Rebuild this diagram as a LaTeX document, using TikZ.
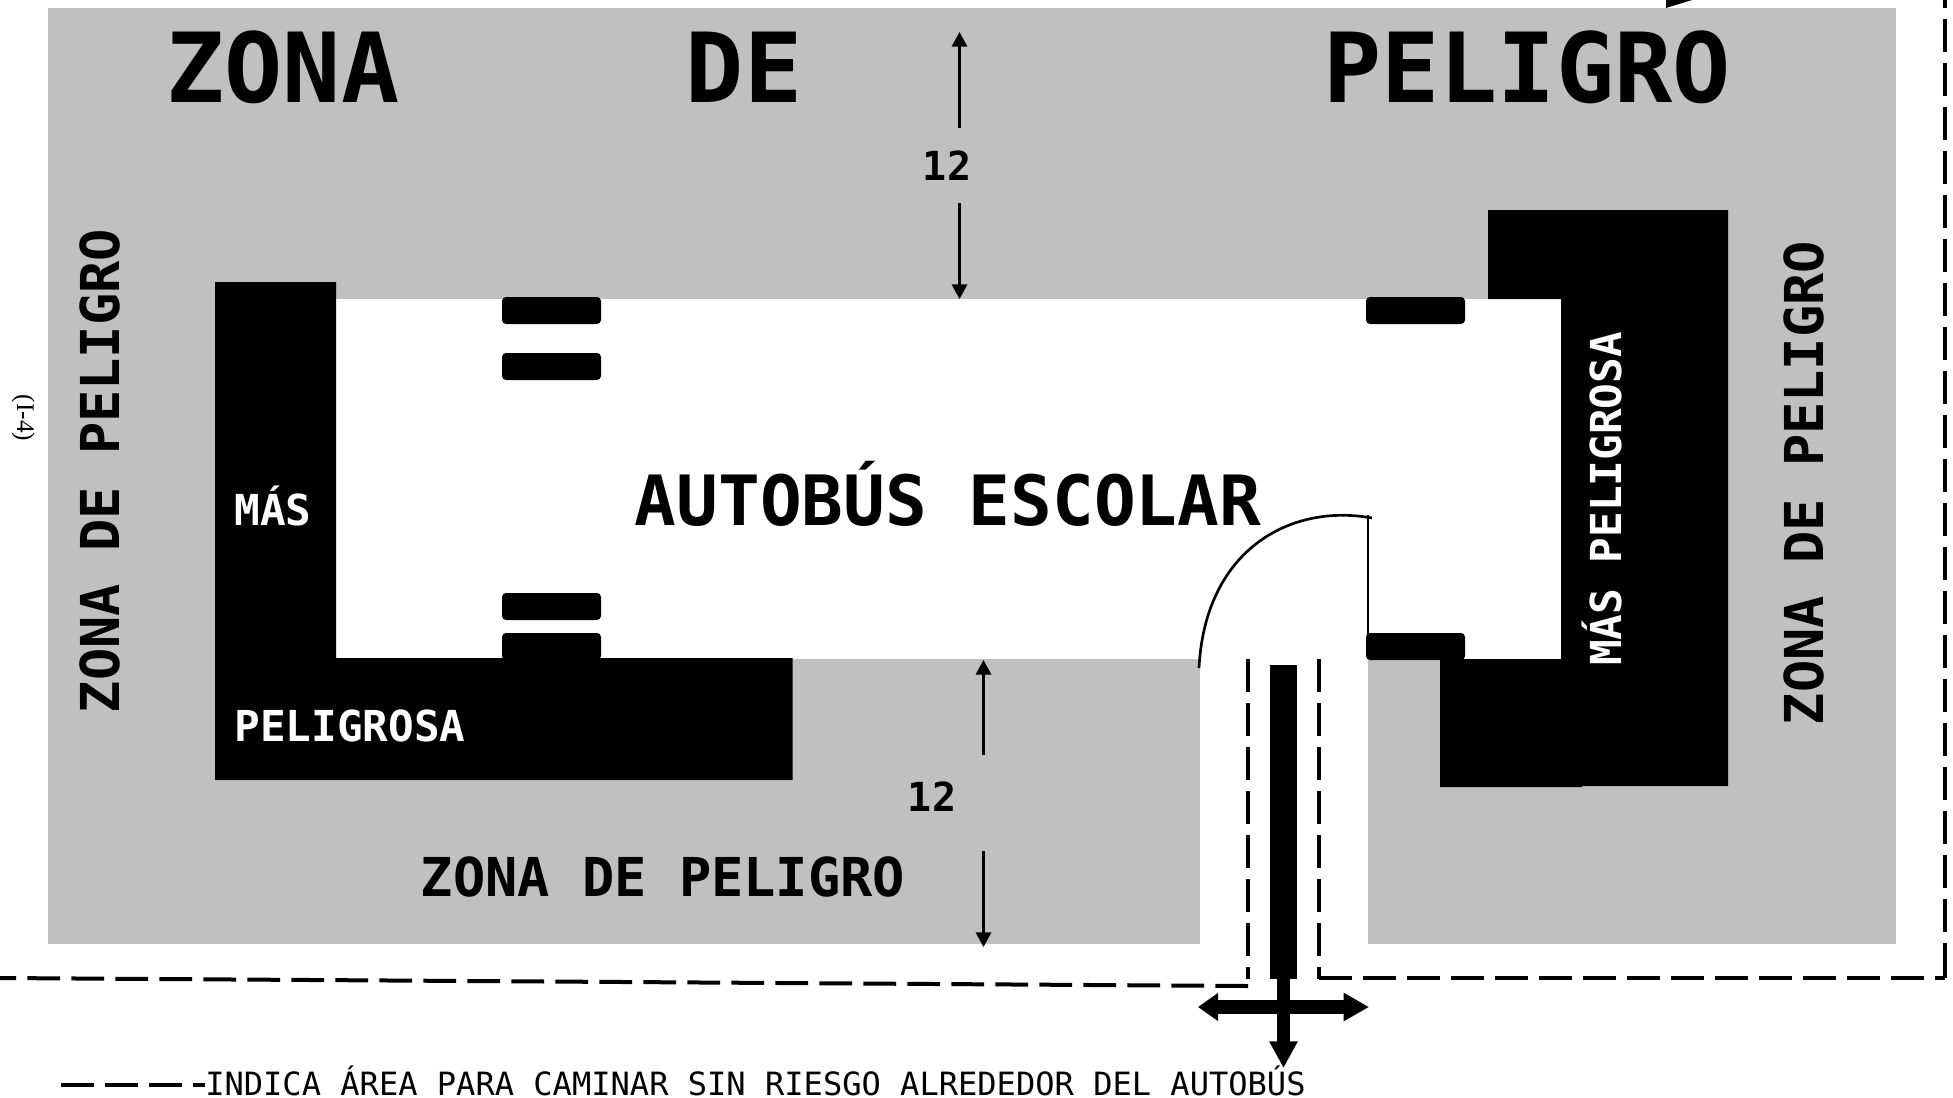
\documentclass[tikz,border=0pt]{standalone}
\usepackage{fontspec}
\usetikzlibrary{arrows.meta}
\setmainfont{DejaVu Sans Mono}
\newfontfamily\serifrm{Liberation Serif}
\definecolor{zonegray}{RGB}{192,192,192}
\tikzset{
  x=0.75pt,y=-0.75pt,
  zone/.style={fill=zonegray,draw=none},
  blackbox/.style={fill=black,draw=none},
  clearbox/.style={fill=white,draw=none},
  tire/.style={fill=black,draw=none,rounded corners=3pt},
  txt/.style={inner sep=0pt,anchor=base,font=\bfseries\fontsize{#1}{#1}\selectfont},
  rtxt/.style={txt=#1,rotate=90},
  dashline/.style={line width=3pt,dash pattern=on 24.5pt off 8.5pt},
  dimline/.style={line width=1.8pt,-{Triangle[length=11pt,width=11.5pt]}},
}
\begin{document}
\begin{tikzpicture}
\useasboundingbox (0,0) rectangle (1953,1097);
% grey zone, bus, walkway
\fill[zone] (48,8) rectangle (1896,944);
\fill[clearbox] (336,299) rectangle (1561,659);
\fill[clearbox] (1199.5,659) rectangle (1367.5,946);
% dangerous zones
\fill[blackbox] (215,282) -- (336,282) -- (336,658) -- (792.5,658) -- (792.5,780) -- (215,780) -- cycle;
\fill[blackbox] (1488,210) -- (1728,210) -- (1728,786) -- (1582,786) -- (1582,787) -- (1440,787) -- (1440,659) -- (1561,659) -- (1561,299) -- (1488,299) -- cycle;
% tires
\fill[tire] (502,297) rectangle (601,324);
\fill[tire] (502,353) rectangle (601,380);
\fill[tire] (502,593) rectangle (601,620);
\fill[tire] (502,633) rectangle (601,660);
\fill[tire] (1366,297) rectangle (1465,324);
\fill[tire] (1366,633) rectangle (1465,660);
% door
\coordinate (doorhinge) at (1368,515);
\coordinate (doorfoot) at (1368,640);
\coordinate (doorend) at (1199,668);
\draw[line width=2pt] (doorfoot) -- (doorhinge);
\draw[line width=2pt] (1372,518) .. controls (1290,503) and (1205,550) .. (doorend);
% safe walking line
\coordinate (dl0) at (0,978);
\coordinate (dl1) at (1248,986);
\coordinate (dl2) at (1248,659);
\coordinate (dl3) at (1248,979);
\coordinate (dr0) at (1319,659);
\coordinate (dr1) at (1319,979);
\coordinate (dr2) at (1319,978);
\coordinate (dr3) at (1945,978);
\coordinate (dr4) at (1945,976);
\coordinate (dr5) at (1945,0);
\draw[dashline] (dl2) -- (dl3);
\draw[dashline] (dl1) -- (dl0);
\draw[dashline] (dr0) -- (dr1);
\draw[dashline] (dr2) -- (dr3);
\draw[line width=3pt] (dr3) -- (dr4);
\draw[dashline] (dr4) -- (dr5);
\fill[black] (1666,0) -- (1692,0) -- (1666,8) -- cycle;
% walking arrows
\fill[blackbox] (1270,665) rectangle (1296.5,979);
\coordinate (crossL) at (1198,1007);
\coordinate (crossR) at (1369,1007);
\coordinate (crossT) at (1283.5,979);
\coordinate (crossB) at (1283.5,1068);
\draw[line width=10pt,-{Triangle[length=20pt,width=20pt]}] (crossT) -- (crossB);
\draw[line width=10pt,{Triangle[length=15pt,width=20pt]}-{Triangle[length=19pt,width=20pt]}] (crossL) -- (crossR);
% titles
\node[txt=72.5] (t1) at (283,102) {ZONA};
\node[txt=72.5] (t2) at (744,102) {DE};
\node[txt=72.5] (t3) at (1527,102) {PELIGRO};
\node[txt=52] (bus) at (948,525) {AUTOBÚS ESCOLAR};
\node[rtxt=40.2] (zl) at (119,471) {ZONA DE PELIGRO};
\node[rtxt=40.2] (zr) at (1823,483) {ZONA DE PELIGRO};
\node[txt=40.2] (zb) at (663,896) {ZONA DE PELIGRO};
\node[txt=32,text=white] (m1) at (273,525) {MÁS};
\node[txt=32,text=white] (m2) at (350,741) {PELIGROSA};
\node[rtxt=32,text=white] (m3) at (1621,499) {MÁS PELIGROSA};
% dimensions
\node[txt=30] (d1) at (947,180) {12};
\node[txt=30] (d2) at (932,811) {12};
\coordinate (d1t0) at (959.5,128);
\coordinate (d1t) at (959.5,32);
\coordinate (d1b0) at (959.5,203);
\coordinate (d1b) at (959.5,299);
\coordinate (d2t0) at (983.5,755);
\coordinate (d2t) at (983.5,660);
\coordinate (d2b0) at (983.5,851);
\coordinate (d2b) at (983.5,947);
\draw[dimline] (d1t0) -- (d1t);
\draw[dimline] (d1b0) -- (d1b);
\draw[dimline] (d2t0) -- (d2t);
\draw[dimline] (d2b0) -- (d2b);
% legend
\coordinate (lg0) at (61,1085);
\coordinate (lg1) at (205,1085);
\draw[dashline] (lg0) -- (lg1);
\node[inner sep=0pt,anchor=base west,font=\fontsize{24.05}{24}\selectfont] (legend) at (205,1095) {INDICA ÁREA PARA CAMINAR SIN RIESGO ALREDEDOR DEL AUTOBÚS};
\node[inner sep=0pt,anchor=base,rotate=-90,font=\serifrm\fontsize{19}{19}\selectfont] (fig) at (17,418) {(I-4)};
\end{tikzpicture}
\end{document}
